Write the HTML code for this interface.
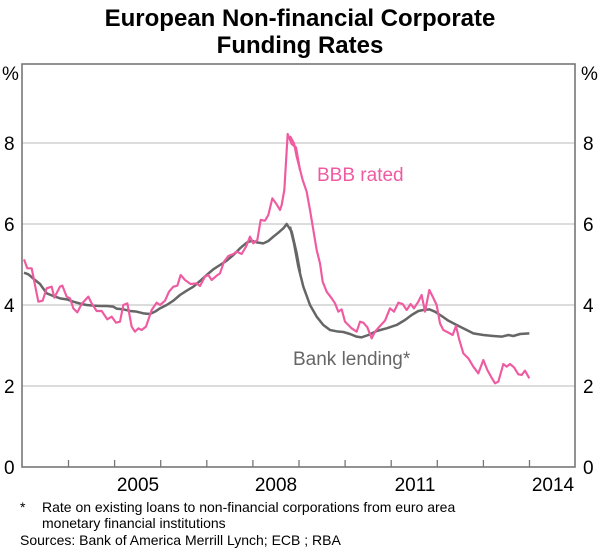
<!DOCTYPE html>
<html><head><meta charset="utf-8"><style>
body{margin:0;background:#fff;}
svg{display:block;font-family:"Liberation Sans",Arial,sans-serif;}
</style></head><body>
<svg width="600" height="554" viewBox="0 0 600 554">
<text x="300" y="26" font-size="24" font-weight="bold" text-anchor="middle" fill="#000">European Non-financial Corporate</text>
<text x="300" y="53" font-size="24" font-weight="bold" text-anchor="middle" fill="#000">Funding Rates</text>
<g stroke="#c8c8c8" stroke-width="1.2">
<line x1="22" y1="143" x2="575" y2="143"/><line x1="22" y1="224" x2="575" y2="224"/>
<line x1="22" y1="305" x2="575" y2="305"/><line x1="22" y1="386" x2="575" y2="386"/>
</g>
<g stroke="#777" stroke-width="1.3">
<line x1="68.5" y1="467" x2="68.5" y2="460"/><line x1="114.6" y1="467" x2="114.6" y2="460"/>
<line x1="160.7" y1="467" x2="160.7" y2="460"/><line x1="206.8" y1="467" x2="206.8" y2="460"/>
<line x1="252.9" y1="467" x2="252.9" y2="460"/><line x1="299" y1="467" x2="299" y2="460"/>
<line x1="345.1" y1="467" x2="345.1" y2="460"/><line x1="391.2" y1="467" x2="391.2" y2="460"/>
<line x1="437.3" y1="467" x2="437.3" y2="460"/><line x1="483.4" y1="467" x2="483.4" y2="460"/>
<line x1="529.5" y1="467" x2="529.5" y2="460"/>
</g>
<rect x="22" y="64" width="553" height="403" fill="none" stroke="#777" stroke-width="1.6"/>
<g fill="none" stroke-linejoin="round" vector-effect="non-scaling-stroke">
<g transform="translate(20,130) scale(0.33333)">
<polyline stroke="#666" stroke-width="7.5" points="12,428 25,433 45,450 60,462 80,490 100,498 120,505 140,508 160,515 185,522 200,525 220,527 240,528 260,528 280,530 290,536 310,538 330,543 350,545 370,550 390,552 405,545 420,535 440,525 460,512 480,495 500,482 520,470 540,453 560,435 580,418 600,405 620,392 640,375 660,355 680,338 695,332 710,337 730,340 745,333 760,320 775,308 790,295 800,282 815,305 830,370 840,425"/>
<polyline stroke="#ef5ba1" stroke-width="6.5" points="12,388 22,415 35,415 55,515 68,512 80,475 95,470 103,503 120,470 127,467 140,500 150,505 160,535 172,547 185,522 205,500 215,520 230,543 245,543 262,568 275,560 288,578 300,575 310,525 322,520 335,590 345,605 355,595 365,600 378,590 395,540 410,518 420,525 435,512 447,485 460,470 472,467 482,435 495,450 512,462 530,460 540,468 555,440 565,435 575,450 590,437 600,430 612,395 625,378 640,372 650,365 665,372 678,350 690,320 700,340 712,330 722,270 735,272 745,255 757,205 768,220 780,240 785,225 793,180 803,12 815,42 828,52 840,120"/>
</g>
<g transform="translate(290,130) scale(0.33333)">
<polyline stroke="#666" stroke-width="7.5" points="0,290 12,340 25,410 40,470 60,525 80,560 100,585 120,600 140,604 160,606 180,612 200,620 215,622 235,615 260,603 290,595 320,585 345,570 365,555 385,543 400,540 418,538 435,545 455,558 475,572 500,585 530,600 550,610 580,615 610,618 635,620 655,615 670,618 690,612 718,610"/>
<polyline stroke="#ef5ba1" stroke-width="6.5" points="0,18 12,40 20,80 38,150 50,185 60,240 70,300 80,360 90,400 98,455 110,485 125,505 135,520 145,545 155,538 165,575 185,595 200,605 210,575 220,578 232,592 245,625 255,605 270,588 285,572 300,535 312,545 325,518 338,522 350,540 362,522 372,535 385,515 395,495 405,545 418,480 428,500 440,525 450,580 460,600 470,605 488,615 498,588 508,630 520,670 535,685 550,710 565,730 580,690 592,720 603,740 615,760 625,755 640,702 650,710 660,702 672,712 685,733 695,735 705,722 718,745"/>
</g>
</g>
<text x="317" y="181" font-size="19" fill="#ef5ba1">BBB rated</text>
<text x="293" y="365" font-size="19" fill="#666">Bank lending*</text>
<g font-size="19" fill="#000">
<text x="2" y="80">%</text><text x="581" y="80">%</text>
<text x="4" y="150">8</text><text x="4" y="231">6</text><text x="4" y="312">4</text><text x="4" y="393">2</text><text x="4" y="474">0</text>
<text x="583" y="150">8</text><text x="583" y="231">6</text><text x="583" y="312">4</text><text x="583" y="393">2</text><text x="583" y="474">0</text>
<text x="138" y="491" text-anchor="middle">2005</text><text x="276" y="491" text-anchor="middle">2008</text>
<text x="415" y="491" text-anchor="middle">2011</text><text x="553" y="491" text-anchor="middle">2014</text>
</g>
<g font-size="14" fill="#000">
<text x="20" y="512">*</text>
<text x="42" y="512">Rate on existing loans to non-financial corporations from euro area</text>
<text x="42" y="528">monetary financial institutions</text>
<text x="20" y="545">Sources: Bank of America Merrill Lynch; ECB ; RBA</text>
</g>
</svg>
</body></html>
